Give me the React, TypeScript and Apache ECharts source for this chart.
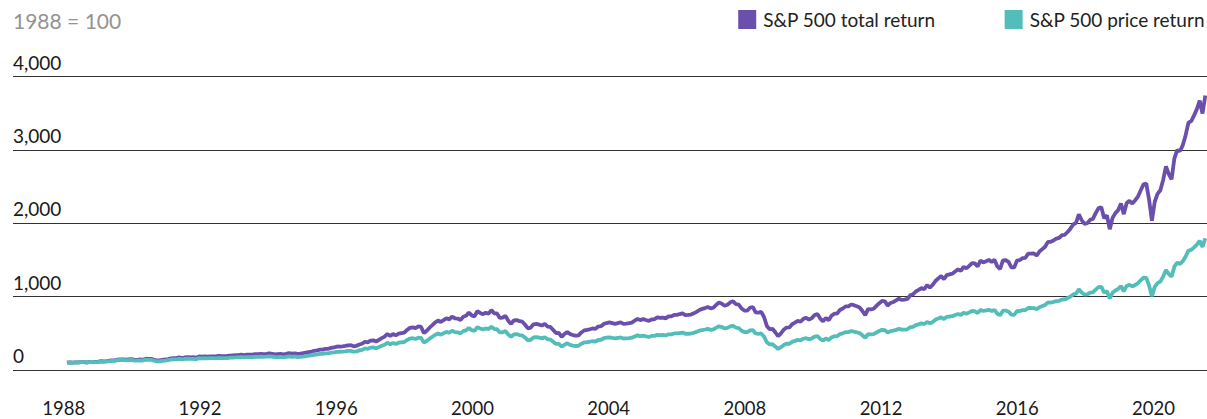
import React, { useEffect, useRef } from "react";
import * as echarts from "echarts";

// Monthly index levels, Jan 1988 .. Oct 2021 (1988 = 100)
const priceReturn: number[] = [
  100,104,101,102,102,106,106,102,106,109,107,108,
  116,112,115,121,125,124,135,137,136,133,135,138,
  128,129,132,129,141,139,139,126,119,118,125,129,
  134,143,146,146,152,144,151,154,151,153,146,162,
  159,161,157,162,162,159,165,161,163,163,168,170,
  171,173,176,171,175,175,174,180,179,182,180,182,
  187,182,174,175,178,173,178,185,180,184,177,179,
  183,190,195,200,208,212,219,219,227,226,236,240,
  248,249,251,255,260,261,249,254,267,274,295,288,
  306,308,295,312,330,344,371,350,369,356,372,378,
  381,408,429,433,424,441,436,373,396,428,453,478,
  498,482,501,520,507,534,517,514,499,530,541,572,
  543,532,583,565,553,566,557,591,559,556,512,514,
  532,483,452,486,489,476,471,441,405,412,443,447,
  440,431,447,419,415,385,355,357,317,345,364,342,
  333,327,330,357,375,379,385,392,388,409,412,433,
  440,446,438,431,436,444,429,430,434,440,457,472,
  460,468,459,450,464,464,480,475,478,470,486,486,
  498,498,504,510,494,494,497,507,520,536,545,552,
  560,547,553,577,596,585,566,574,594,603,576,571,
  536,518,515,539,545,498,493,499,454,377,349,352,
  321,286,311,340,358,358,384,397,411,403,426,434,
  418,430,455,462,424,401,429,408,444,460,459,489,
  500,516,516,531,523,514,503,474,440,488,485,489,
  511,531,548,544,510,530,537,547,561,550,551,555,
  583,589,611,622,635,625,656,635,654,684,703,719,
  694,724,729,733,749,763,751,780,767,785,805,801,
  776,819,805,812,820,803,819,767,747,809,810,795,
  755,752,801,804,816,817,846,845,844,827,856,871,
  887,920,919,928,938,943,961,962,980,1002,1030,1040,
  1099,1056,1028,1030,1053,1058,1096,1129,1134,1055,1074,975,
  1052,1084,1103,1146,1071,1145,1160,1139,1158,1182,1222,1257,
  1255,1150,1006,1133,1185,1206,1273,1362,1309,1272,1409,1462,
  1445,1483,1546,1627,1636,1672,1710,1760,1676,1795,
];

const totalReturn: number[] = [
  100,105,101,103,103,108,108,104,108,112,110,112,
  120,117,120,126,131,130,142,145,144,141,144,147,
  138,139,143,139,153,152,151,138,131,130,139,143,
  149,159,163,164,171,163,171,174,171,174,167,186,
  183,185,181,187,187,185,192,188,190,191,197,200,
  202,204,209,204,209,210,209,217,215,220,217,220,
  228,221,212,215,218,213,220,229,223,228,220,223,
  229,238,245,252,262,268,277,277,289,289,301,307,
  318,320,323,328,336,338,323,330,348,358,385,377,
  401,404,387,411,435,455,491,464,489,473,495,503,
  509,546,574,580,570,593,587,502,534,577,612,648,
  675,654,680,706,689,727,705,701,682,725,740,783,
  744,730,801,778,761,781,768,816,773,770,709,713,
  738,671,628,677,681,665,658,617,567,578,622,628,
  618,606,630,592,587,545,503,506,451,491,519,489,
  476,468,473,512,539,546,555,566,560,592,597,628,
  640,649,639,629,638,650,629,631,638,647,673,696,
  680,694,681,669,689,691,717,709,715,704,730,730,
  750,751,761,771,748,750,755,772,792,818,833,844,
  858,840,850,888,919,904,876,889,922,938,897,891,
  838,811,808,848,859,786,781,792,722,601,557,562,
  515,460,500,548,578,580,624,646,670,658,697,711,
  686,707,749,762,701,664,711,678,738,767,767,818,
  838,866,867,893,883,868,851,804,747,829,826,835,
  873,910,941,935,878,914,927,948,973,955,959,968,
  1018,1032,1070,1092,1116,1101,1158,1123,1159,1213,1249,1280,
  1237,1292,1303,1313,1343,1371,1352,1405,1385,1420,1457,1453,
  1411,1490,1467,1482,1501,1472,1503,1411,1376,1494,1497,1473,
  1400,1398,1492,1499,1524,1529,1586,1586,1588,1559,1615,1647,
  1680,1746,1748,1766,1790,1801,1839,1843,1881,1926,1983,2006,
  2122,2042,1992,2000,2046,2059,2138,2206,2219,2068,2109,1919,
  2073,2138,2179,2268,2124,2273,2307,2268,2311,2361,2447,2530,
  2540,2320,2035,2290,2400,2450,2590,2775,2670,2600,2885,2995,
  2985,3065,3200,3370,3392,3470,3555,3670,3495,3740,
];

const yearTicks: number[] = [1988, 1992, 1996, 2000, 2004, 2008, 2012, 2016, 2020];
const seriesNames: string[] = ["S&P 500 total return", "S&P 500 price return"];
const titleText = "1988 = 100";

const FONT = "Lato, 'Noto Sans', sans-serif";
const PURPLE = "#6a4fad";
const TEAL = "#52bdb9";

export default function App() {
  const ref = useRef<HTMLDivElement>(null);

  useEffect(() => {
    if (!ref.current) return;
    const chart = echarts.init(ref.current, undefined, { renderer: "svg" });
    const toPairs = (arr: number[]) => arr.map((v, i) => [i, v]);

    chart.setOption({
      animation: false,
      backgroundColor: "#ffffff",
      textStyle: { fontFamily: FONT },
      title: {
        text: titleText,
        left: 13,
        top: 10,
        padding: 0,
        textStyle: { fontFamily: FONT, fontSize: 21, fontWeight: "normal", color: "#939393" },
      },
      legend: {
        data: seriesNames,
        right: 2,
        top: 10,
        padding: 0,
        icon: "rect",
        itemWidth: 18,
        itemHeight: 19,
        itemGap: 69,
        textStyle: { fontFamily: FONT, fontSize: 19, color: "#222", padding: [0, 0, 0, 2] },
      },
      grid: { left: 13, right: 0, top: 76.5, bottom: 49, containLabel: false },
      xAxis: [
        {
          type: "value",
          min: -19.2,
          max: 405.6,
          show: false,
        },
        {
          type: "value",
          min: 1986.51,
          max: 2021.57,
          position: "bottom",
          axisLine: { show: false },
          axisTick: { show: false },
          splitLine: { show: false },
          axisLabel: {
            customValues: yearTicks,
            formatter: (v: number) => String(v),
            margin: 29,
            lineHeight: 18,
            fontFamily: FONT,
            fontSize: 18.5,
            color: "#1a1a1a",
          },
        },
      ],
      yAxis: {
        type: "value",
        min: 0,
        max: 4000,
        interval: 1000,
        axisLine: { show: false },
        axisTick: { show: false },
        splitLine: { lineStyle: { color: "#333", width: 1 } },
        axisLabel: {
          inside: true,
          margin: 0,
          verticalAlign: "bottom",
          padding: [0, 0, 5, 0],
          lineHeight: 19,
          fontFamily: FONT,
          fontSize: 19,
          color: "#1a1a1a",
        },
      },
      series: [
        {
          name: seriesNames[0],
          type: "line",
          xAxisIndex: 0,
          data: toPairs(totalReturn),
          showSymbol: false,
          color: PURPLE,
          lineStyle: { width: 3.8, color: PURPLE },
        },
        {
          name: seriesNames[1],
          type: "line",
          xAxisIndex: 0,
          data: toPairs(priceReturn),
          showSymbol: false,
          color: TEAL,
          lineStyle: { width: 3.8, color: TEAL },
        },
      ],
    });

    return () => chart.dispose();
  }, []);

  return (
    <div
      ref={ref}
      style={{ position: "fixed", left: 0, top: 0, width: 1207, height: 419, background: "#fff" }}
    />
  );
}
